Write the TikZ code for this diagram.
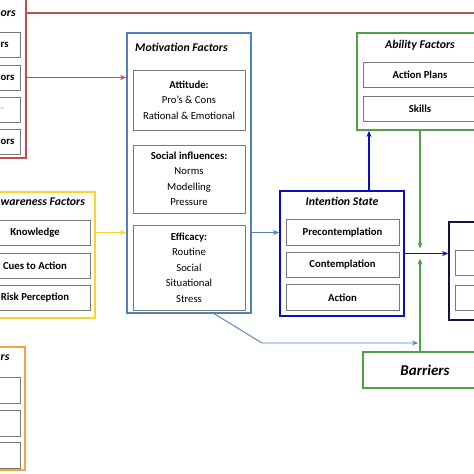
\documentclass[tikz,border=0pt]{standalone}
\usepackage{fontspec}
\setmainfont{Carlito}
\usetikzlibrary{arrows.meta}
\definecolor{redFrame}{RGB}{192,80,77}
\definecolor{motivBlue}{RGB}{79,129,189}
\definecolor{yellowFrame}{RGB}{255,210,40}
\definecolor{orangeFrame}{RGB}{245,165,60}
\definecolor{intentBlue}{RGB}{10,10,200}
\definecolor{greenFrame}{RGB}{80,160,70}
\definecolor{navyFrame}{RGB}{20,20,60}
\definecolor{boxGray}{RGB}{120,120,120}
\begin{document}
\fontsize{10.7}{15.5}\selectfont
\begin{tikzpicture}
[x=1pt,y=-1pt,>={Stealth[length=6pt,width=5pt]},
  frameDecorate/.style={draw=#1,line width=1.8pt,fill=white,inner sep=0pt},
  boxDecorate/.style={draw=boxGray,line width=1pt,inner sep=0pt,font=\bfseries},
  listDecorate/.style={draw=boxGray,line width=1pt,inner sep=0pt,align=center},
  titleDecorate/.style={font=\fontsize{11.8}{14}\selectfont\bfseries\itshape,inner sep=0pt},
  lineDecorate/.style={draw=#1,line width=1.3pt}]
\useasboundingbox[fill=white] (0,0) rectangle (474,474);
\clip (0,0) rectangle (474,474);
%% outer frames
\foreach \nodename/\colour/\x/\y/\w/\h in {
  redBox/redFrame/-2/69/56/178, awareBox/yellowFrame/32.5/255/125/126,
  orangeBox/orangeFrame/-2.5/408.5/55/123, motivation/motivBlue/189/173/124/280,
  intention/intentBlue/342/253.5/124/125, ability/greenFrame/420/81.5/126/97,
  outcome/navyFrame/477/271/56/98}
{
  \node (\nodename) at (\x,\y) [frameDecorate=\colour,minimum width=\w,minimum height=\h] {};
}
\node (barriers) at (425,370) [frameDecorate=greenFrame,minimum width=124,minimum height=36,
  font=\fontsize{15}{17}\selectfont\bfseries\itshape] {Barriers};
%% titles
\node (redTitle) at (0.5,14) [titleDecorate,anchor=west] {ors};
\node (awareTitle) at (0.5,202) [titleDecorate,anchor=west] {wareness Factors};
\node (orangeTitle) at (0.5,358) [titleDecorate,anchor=west] {rs};
\node (motivTitle) at (135,47) [titleDecorate,anchor=west] {Motivation Factors};
\node (intentTitle) at (342,201) [titleDecorate] {Intention State};
\node (abilityTitle) at (420,45) [titleDecorate] {Ability Factors};
%% inner boxes
\foreach \nodename/\y/\txt in {
  r1/44.5/rs, r2/77.5/ors, r3/109.5/{\color{boxGray!50}-}, r4/141.5/ors}
{
  \node (\nodename) at (-5,\y) [boxDecorate,minimum width=50,minimum height=25] {};
  \node (\nodename Text) at (0.5,\y) [anchor=west,inner sep=0pt,font=\bfseries] {\txt};
}
\foreach \nodename/\y/\txt in {
  knowledge/232.5/Knowledge, cues/265.5/Cues to Action, risk/297.5/Risk Perception}
{
  \node (\nodename) at (35,\y) [boxDecorate,minimum width=110,minimum height=25] {\txt};
}
\foreach \nodename/\y/\txt in {
  precon/232.5/Precontemplation, contemp/265/Contemplation, act/297.5/Action}
{
  \node (\nodename) at (342.5,\y) [boxDecorate,minimum width=113,minimum height=25.5] {\txt};
}
\foreach \nodename/\y/\txt in {plans/74.5/Action Plans, skills/109/Skills}
{
  \node (\nodename) at (420,\y) [boxDecorate,minimum width=114,minimum height=25] {\txt};
}
\foreach \nodename/\y in {o1/390, o2/423, o3/455}
{
  \node (\nodename) at (-5,\y) [boxDecorate,minimum width=50,minimum height=26] {};
}
\foreach \nodename/\y in {out1/262.5, out2/297.5}
{
  \node (\nodename) at (478,\y) [boxDecorate,minimum width=45,minimum height=25] {};
}
\node (attitude) at (189,100) [listDecorate,minimum width=112,minimum height=60]
  {\textbf{Attitude:}\\Pro's \& Cons\\Rational \& Emotional};
\node (social) at (189,179) [listDecorate,minimum width=112,minimum height=68]
  {\textbf{Social influences:}\\Norms\\Modelling\\Pressure};
\node (efficacy) at (189,267.5) [listDecorate,minimum width=112,minimum height=85]
  {\textbf{Efficacy:}\\Routine\\Social\\Situational\\Stress};
%% connectors
\coordinate (redEnd) at (480,13);
\coordinate (upFoot) at ([xshift=27pt]intention.north);
\coordinate (meet) at (ability.south |- intention.east);
\coordinate (effStart) at (213,313);
\coordinate (bend) at (262,343);
\coordinate (effEnd) at (bend -| meet);
\draw[lineDecorate=redFrame] (redBox.east |- redEnd) -- (redEnd);
\draw[lineDecorate=redFrame,->] (redBox.east |- r2) -- (motivation.west |- r2);
\draw[lineDecorate=yellowFrame,->] (awareBox.east |- knowledge) -- (motivation.west |- knowledge);
\draw[lineDecorate=motivBlue,->] (motivation.east |- precon) -- (intention.west |- precon);
\draw[lineDecorate=intentBlue,->] (upFoot) -- (upFoot |- ability.south);
\draw[lineDecorate=greenFrame,->] (ability.south) -- ([yshift=5pt]meet);
\draw[lineDecorate=greenFrame,->] (barriers.north -| meet) -- ([yshift=-5pt]meet);
\draw[lineDecorate=intentBlue,->] (intention.east) -- (outcome.west |- intention.east);
\draw[draw=motivBlue,line width=0.9pt,->] (effStart) -- (bend) -- ([xshift=-2pt]effEnd);
\end{tikzpicture}
\end{document}
